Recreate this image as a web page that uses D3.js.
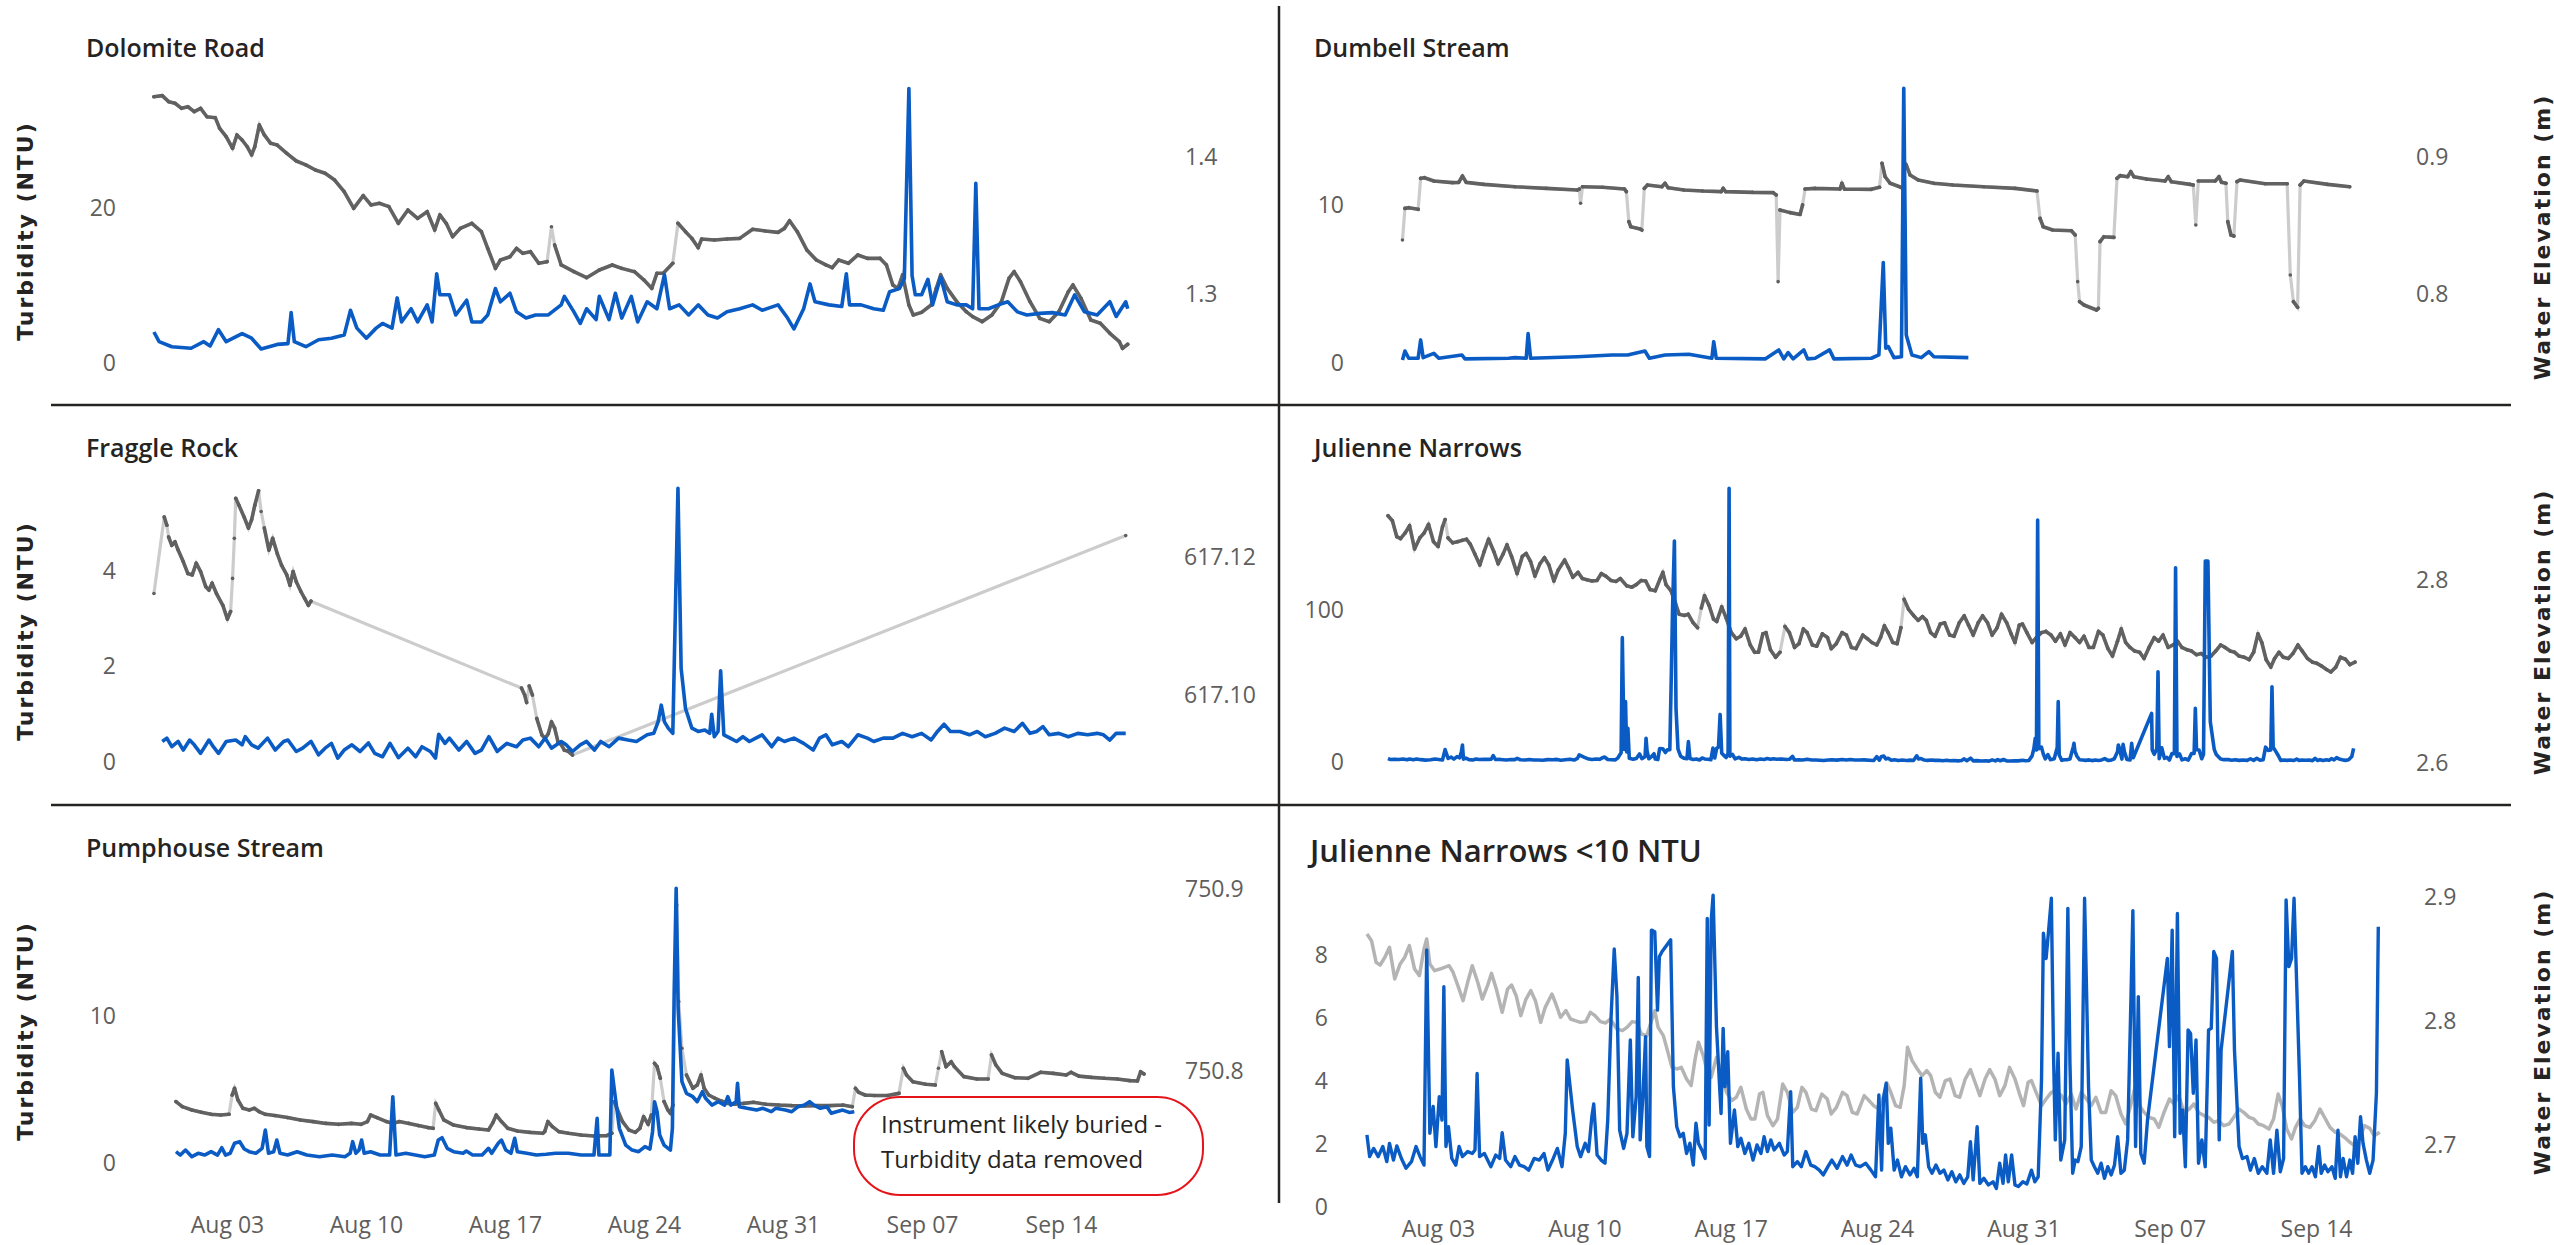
<!DOCTYPE html>
<html>
<head>
<meta charset="utf-8">
<script src="https://cdn.jsdelivr.net/npm/d3@7"></script>
<style>
    body { margin: 0; background: #fff; }
    svg { display: block; }
    .title { font-family: "Open Sans", sans-serif; font-weight: 600; fill: #252423; }
    .tick-axis text { font-family: "Open Sans", sans-serif; font-size: 23px; fill: #605E5C; }
    .axis-title { font-family: "DejaVu Sans", sans-serif; font-size: 22px; font-weight: bold; letter-spacing: 2px; fill: #252423; }
    .note { font-family: "Open Sans", sans-serif; font-size: 24px; fill: #252423; }
</style>
</head>
<body>
<svg id="chart" width="2554" height="1245"></svg>
<script>
// time is given as days after 1 Aug (0 = Aug 01 00:00)
var xTickDays = ["2023-08-03", "2023-08-10", "2023-08-17", "2023-08-24", "2023-08-31", "2023-09-07", "2023-09-14"];

// Dolomite Road
var dolomiteTurbidity = [[-1.68,4.0],[-1.42,2.75],[-0.78,2.1],[0.19,1.9],[0.83,2.75],[1.15,2.2],[1.57,4.3],[1.96,2.75],[2.76,3.8],[3.24,3.2],[3.72,1.8],[4.53,2.4],[5.07,2.5],[5.23,6.5],[5.39,2.75],[5.97,2.1],[6.61,3.0],[7.26,3.2],[7.90,3.6],[8.22,6.8],[8.54,4.5],[9.02,3.2],[9.51,4.5],[9.83,5.1],[10.31,4.5],[10.57,8.4],[10.79,5.3],[11.27,7.0],[11.60,5.3],[12.08,7.5],[12.33,5.3],[12.56,11.5],[12.72,8.8],[13.20,8.8],[13.52,6.2],[14.07,8.1],[14.33,5.3],[14.81,5.3],[15.13,6.2],[15.52,9.6],[15.77,7.9],[16.25,9.0],[16.58,6.6],[17.06,5.8],[17.54,6.2],[18.18,6.2],[18.83,7.5],[18.99,8.6],[19.47,6.6],[19.79,5.1],[20.11,7.0],[20.59,5.6],[20.75,8.6],[21.24,5.6],[21.56,9.0],[21.88,5.8],[22.36,8.6],[22.68,5.3],[23.16,7.9],[23.65,7.0],[24.03,11.4],[24.29,7.0],[24.77,7.5],[25.25,6.2],[25.73,7.5],[26.22,6.2],[26.70,5.8],[27.18,6.6],[27.82,7.0],[28.47,7.5],[28.95,6.8],[29.75,7.5],[30.23,5.8],[30.55,4.4],[31.04,7.0],[31.36,10.2],[31.61,7.9],[32.32,7.5],[32.96,7.3],[33.19,11.5],[33.35,7.5],[33.93,7.5],[34.57,7.0],[35.05,6.8],[35.37,9.2],[35.86,9.6],[36.11,10.9],[36.34,35.4],[36.50,11.3],[36.66,8.8],[36.98,8.8],[37.30,10.8],[37.53,7.5],[37.94,11.1],[38.27,7.9],[38.75,7.5],[39.23,7.5],[39.55,7.0],[39.71,23.2],[39.87,7.0],[40.35,7.0],[40.84,7.5],[41.32,7.9],[41.80,6.6],[42.28,6.2],[42.93,6.4],[43.57,6.5],[44.21,6.2],[44.69,8.8],[45.18,6.6],[45.82,6.2],[46.46,7.9],[46.78,6.0],[47.26,7.9],[47.36,7.0]];
var dolomiteElevation = [[-1.68,1.4440],[-1.26,1.4448],[-0.94,1.4404],[-0.62,1.4392],[-0.29,1.4355],[0.03,1.4367],[0.35,1.4331],[0.67,1.4355],[0.99,1.4294],[1.41,1.4287],[1.63,1.4209],[1.96,1.4148],[2.28,1.4063],[2.50,1.4161],[2.76,1.4124],[3.02,1.4075],[3.24,1.4015],[3.40,1.4075],[3.63,1.4234],[3.88,1.4161],[4.20,1.4100],[4.53,1.4087],[5.01,1.4027],[5.49,1.3971],[5.97,1.3942],[6.45,1.3905],[6.94,1.3881],[7.42,1.3832],[7.90,1.3747],[8.38,1.3625],[8.86,1.3718],[9.25,1.3650],[9.67,1.3662],[10.15,1.3638],[10.63,1.3516],[11.11,1.3613],[11.60,1.3552],[12.08,1.3601],[12.46,1.3467],[12.72,1.3577],[13.04,1.3516],[13.36,1.3418],[13.75,1.3479],[14.33,1.3516],[14.81,1.3455],[15.13,1.3333],[15.52,1.3187],[15.77,1.3248],[16.25,1.3272],[16.58,1.3333],[16.90,1.3297],[17.28,1.3309],[17.70,1.3224],[18.12,1.3236],[18.34,1.3491],[18.50,1.3358],[18.83,1.3212],[19.47,1.3163],[20.11,1.3119],[20.75,1.3175],[21.40,1.3212],[21.88,1.3187],[22.52,1.3163],[23.00,1.3102],[23.39,1.3041],[23.65,1.3151],[23.97,1.3151],[24.45,1.3224],[24.71,1.3516],[25.09,1.3455],[25.41,1.3406],[25.73,1.3338],[25.90,1.3401],[26.54,1.3394],[27.18,1.3401],[27.82,1.3406],[28.47,1.3472],[29.11,1.3460],[29.75,1.3450],[30.07,1.3479],[30.33,1.3535],[30.72,1.3455],[31.20,1.3321],[31.68,1.3248],[32.16,1.3212],[32.48,1.3192],[32.80,1.3248],[33.29,1.3224],[33.77,1.3285],[34.25,1.3260],[34.89,1.3260],[35.21,1.3212],[35.53,1.3066],[35.79,1.3041],[36.02,1.3139],[36.34,1.2920],[36.56,1.2847],[36.98,1.2866],[37.46,1.2920],[37.72,1.3041],[37.94,1.3139],[38.27,1.3041],[38.75,1.2944],[39.23,1.2871],[39.55,1.2835],[40.03,1.2798],[40.52,1.2847],[41.00,1.2944],[41.38,1.3114],[41.64,1.3163],[41.96,1.3090],[42.44,1.2944],[42.93,1.2822],[43.41,1.2798],[43.89,1.2871],[44.37,1.3017],[44.60,1.3066],[45.01,1.2968],[45.50,1.2810],[45.98,1.2786],[46.46,1.2713],[46.94,1.2652],[47.10,1.2603],[47.36,1.2633]];

// Dumbell Stream
var dumbellTurbidity = [[0.30,0.19],[0.42,0.76],[0.60,0.30],[1.05,0.30],[1.17,1.46],[1.29,0.34],[1.80,0.61],[2.04,0.30],[3.14,0.51],[3.29,0.26],[5.38,0.30],[5.68,0.34],[6.22,0.30],[6.31,1.86],[6.43,0.30],[8.67,0.40],[10.32,0.51],[11.07,0.51],[11.90,0.76],[12.11,0.30],[12.86,0.51],[14.00,0.55],[15.10,0.30],[15.19,1.35],[15.31,0.30],[17.65,0.26],[18.30,0.83],[18.54,0.26],[18.75,0.66],[18.99,0.26],[19.50,0.83],[19.68,0.26],[20.04,0.30],[20.73,0.83],[20.94,0.26],[22.73,0.30],[23.09,0.51],[23.30,6.35],[23.42,0.93],[23.54,1.04],[23.81,0.34],[24.17,0.40],[24.28,17.39],[24.40,1.77],[24.67,0.51],[25.12,0.34],[25.48,0.72],[25.72,0.40],[27.37,0.34]];
var dumbellElevation = [[0.30,0.8394],[0.42,0.8625],[0.60,0.8630],[1.05,0.8618],[1.17,0.8844],[1.35,0.8849],[1.80,0.8825],[2.69,0.8813],[2.99,0.8815],[3.17,0.8861],[3.35,0.8815],[4.19,0.8800],[5.68,0.8783],[7.18,0.8771],[8.67,0.8759],[8.76,0.8766],[8.82,0.8662],[8.91,0.8783],[9.87,0.8779],[10.92,0.8766],[11.01,0.8747],[11.13,0.8528],[11.22,0.8491],[11.67,0.8474],[11.75,0.8467],[11.87,0.8771],[12.02,0.8796],[12.71,0.8783],[12.86,0.8808],[13.01,0.8776],[13.76,0.8759],[14.66,0.8752],[15.55,0.8747],[15.64,0.8771],[15.76,0.8747],[17.05,0.8742],[18.03,0.8740],[18.18,0.8723],[18.27,0.8090],[18.36,0.8613],[18.84,0.8594],[19.32,0.8581],[19.44,0.8650],[19.56,0.8766],[20.04,0.8771],[21.23,0.8766],[21.32,0.8808],[21.44,0.8766],[22.73,0.8764],[23.12,0.8779],[23.24,0.8954],[23.39,0.8856],[23.63,0.8808],[24.08,0.8783],[24.23,0.8771],[24.28,0.8966],[24.40,0.8942],[24.58,0.8869],[24.97,0.8832],[25.72,0.8808],[26.62,0.8796],[28.11,0.8783],[29.61,0.8771],[30.65,0.8752],[30.80,0.8552],[30.95,0.8491],[31.40,0.8467],[32.30,0.8462],[32.48,0.8431],[32.60,0.8090],[32.69,0.7944],[32.90,0.7920],[33.50,0.7883],[33.59,0.7895],[33.67,0.8382],[33.85,0.8418],[34.33,0.8413],[34.48,0.8844],[34.63,0.8864],[34.99,0.8856],[35.14,0.8893],[35.29,0.8856],[35.89,0.8839],[36.78,0.8825],[36.93,0.8856],[37.08,0.8820],[37.98,0.8800],[38.13,0.8796],[38.25,0.8504],[38.37,0.8825],[39.18,0.8825],[39.36,0.8856],[39.48,0.8815],[39.69,0.8808],[39.78,0.8528],[39.93,0.8431],[40.07,0.8423],[40.22,0.8820],[40.37,0.8832],[41.57,0.8805],[42.62,0.8805],[42.77,0.8139],[42.92,0.7944],[43.12,0.7903],[43.24,0.8796],[43.42,0.8825],[44.56,0.8800],[45.61,0.8783]];

// Fraggle Rock (null marks a gap in the elevation record)
var fraggleTurbidity = [[-1.26,0.43],[-1.03,0.50],[-0.78,0.32],[-0.46,0.43],[-0.20,0.25],[0.12,0.46],[0.35,0.36],[0.67,0.18],[1.09,0.46],[1.31,0.32],[1.57,0.18],[1.96,0.43],[2.44,0.46],[2.76,0.36],[2.92,0.53],[3.24,0.36],[3.56,0.29],[4.04,0.50],[4.43,0.25],[4.85,0.43],[5.07,0.46],[5.49,0.22],[5.81,0.29],[6.23,0.43],[6.61,0.15],[6.94,0.29],[7.26,0.39],[7.58,0.08],[7.90,0.25],[8.29,0.36],[8.70,0.22],[9.12,0.40],[9.44,0.18],[9.83,0.11],[10.21,0.39],[10.63,0.09],[11.11,0.29],[11.50,0.11],[11.82,0.32],[12.24,0.22],[12.50,0.08],[12.66,0.58],[12.98,0.39],[13.20,0.50],[13.68,0.25],[14.07,0.43],[14.49,0.18],[14.81,0.25],[15.19,0.53],[15.61,0.22],[16.09,0.39],[16.58,0.32],[16.90,0.46],[17.28,0.50],[17.70,0.32],[18.02,0.50],[18.34,0.29],[18.83,0.43],[19.08,0.36],[19.40,0.22],[19.79,0.36],[20.11,0.43],[20.50,0.25],[20.82,0.43],[21.24,0.32],[21.72,0.50],[22.20,0.46],[22.62,0.43],[23.16,0.57],[23.49,0.60],[23.71,0.84],[23.87,1.19],[24.03,0.84],[24.22,0.71],[24.45,0.60],[24.71,5.73],[24.87,1.96],[25.09,1.12],[25.41,0.71],[25.73,0.64],[26.06,0.67],[26.31,0.60],[26.41,1.00],[26.54,0.53],[26.73,0.64],[26.86,1.91],[27.02,0.57],[27.34,0.50],[27.66,0.43],[27.98,0.53],[28.31,0.43],[28.63,0.50],[28.95,0.57],[29.43,0.32],[29.75,0.50],[30.07,0.43],[30.55,0.50],[31.04,0.39],[31.52,0.25],[31.84,0.50],[32.16,0.57],[32.48,0.36],[32.96,0.43],[33.29,0.32],[33.77,0.57],[34.25,0.50],[34.57,0.43],[35.05,0.50],[35.54,0.50],[36.02,0.60],[36.50,0.53],[36.98,0.60],[37.46,0.46],[37.78,0.64],[38.11,0.79],[38.43,0.64],[38.91,0.64],[39.39,0.57],[39.78,0.64],[40.19,0.53],[40.68,0.60],[41.16,0.71],[41.64,0.64],[42.06,0.81],[42.44,0.60],[42.77,0.64],[43.09,0.74],[43.41,0.57],[43.89,0.60],[44.37,0.53],[44.85,0.60],[45.34,0.57],[45.82,0.60],[46.14,0.57],[46.46,0.46],[46.78,0.60],[47.26,0.60]];
var fraggleElevation = [[-1.68,617.1147],[-1.16,617.1258],[-1.03,617.1246],[-0.94,617.1229],[-0.78,617.1217],[-0.62,617.1222],[-0.46,617.1210],[-0.20,617.1193],[0.03,617.1176],[0.25,617.1174],[0.45,617.1191],[0.67,617.1179],[0.93,617.1157],[1.09,617.1152],[1.25,617.1162],[1.47,617.1147],[1.79,617.1130],[2.02,617.1110],[2.18,617.1121],[2.28,617.1169],[2.37,617.1227],[2.44,617.1285],[2.60,617.1275],[2.86,617.1258],[3.08,617.1242],[3.24,617.1254],[3.40,617.1275],[3.59,617.1296],[3.72,617.1266],[3.88,617.1242],[4.11,617.1210],[4.30,617.1227],[4.53,617.1205],[4.75,617.1188],[5.01,617.1174],[5.17,617.1159],[5.33,617.1179],[5.49,617.1164],[5.72,617.1150],[5.91,617.1140],[6.10,617.1130],[6.23,617.1136],null,[16.83,617.1010],[16.99,617.1000],[17.09,617.0989],[17.22,617.1013],[17.38,617.1000],[17.60,617.0966],[17.86,617.0942],[18.02,617.0937],[18.18,617.0944],[18.34,617.0961],[18.50,617.0952],[18.67,617.0932],[18.83,617.0928],[18.99,617.0920],[19.15,617.0919],[19.40,617.0913],null,[47.26,617.1231]];

// Julienne Narrows (same record feeds the <10 NTU panel)
var julienneTurbidity = [[-1.40,2.29],[-1.27,1.60],[-1.08,1.86],[-0.86,1.60],[-0.64,1.92],[-0.45,1.44],[-0.32,2.02],[-0.13,1.49],[0.03,1.94],[0.25,1.54],[0.47,1.23],[0.73,1.44],[0.95,1.92],[1.14,1.60],[1.33,1.33],[1.46,8.16],[1.61,2.34],[1.77,3.19],[1.90,1.92],[2.06,3.50],[2.19,2.76],[2.28,6.99],[2.33,11.2],[2.38,1.92],[2.50,2.55],[2.66,1.54],[2.85,1.33],[3.01,1.92],[3.17,1.60],[3.42,1.76],[3.64,1.70],[3.77,1.81],[3.87,4.24],[3.99,1.60],[4.22,1.70],[4.53,1.28],[4.76,1.65],[4.95,1.54],[5.07,2.36],[5.23,1.49],[5.48,1.28],[5.68,1.60],[5.90,1.33],[6.12,1.28],[6.34,1.17],[6.60,1.54],[6.85,1.49],[7.07,1.70],[7.26,1.17],[7.48,1.49],[7.71,1.86],[7.93,1.28],[8.09,2.34],[8.18,4.67],[8.44,3.08],[8.66,1.92],[8.82,1.60],[9.04,2.02],[9.20,1.76],[9.36,2.87],[9.45,3.27],[9.61,1.65],[9.80,1.49],[9.99,1.39],[10.12,2.76],[10.28,6.04],[10.34,81.8],[10.43,8.19],[10.50,39.7],[10.56,6.68],[10.62,22.1],[10.69,2.44],[10.88,1.86],[11.04,2.34],[11.20,5.30],[11.32,2.23],[11.48,3.50],[11.53,15.6],[11.58,7.29],[11.67,2.13],[11.80,3.50],[11.93,5.41],[11.99,1.92],[12.12,1.60],[12.21,8.79],[12.37,8.74],[12.50,6.25],[12.59,7.95],[12.72,8.11],[12.78,47.4],[12.86,102.0],[12.95,145.4],[13.03,35.3],[13.13,8.48],[13.26,3.82],[13.42,2.55],[13.58,2.23],[13.65,13.4],[13.73,2.34],[13.89,1.70],[14.05,2.02],[14.21,1.33],[14.34,2.66],[14.46,2.02],[14.62,1.81],[14.78,1.54],[14.88,9.16],[14.97,2.60],[15.07,9.11],[15.16,9.90],[15.24,31.3],[15.32,5.73],[15.48,3.71],[15.54,2.97],[15.64,5.67],[15.69,180.0],[15.73,3.82],[15.86,4.93],[15.99,2.02],[16.18,3.08],[16.34,1.92],[16.49,2.18],[16.68,1.70],[16.87,2.02],[17.07,1.49],[17.26,1.97],[17.45,1.70],[17.60,2.23],[17.76,1.76],[17.92,2.13],[18.08,1.81],[18.33,2.02],[18.56,1.65],[18.71,1.76],[18.87,3.66],[18.97,1.28],[19.19,1.44],[19.38,1.28],[19.60,1.76],[19.83,1.33],[20.02,1.28],[20.24,1.17],[20.43,1.02],[20.65,1.28],[20.84,1.49],[21.09,1.23],[21.35,1.60],[21.57,1.33],[21.76,1.65],[21.98,1.33],[22.20,1.28],[22.46,1.39],[22.71,1.17],[22.93,0.96],[23.09,3.56],[23.22,1.17],[23.31,3.45],[23.44,3.93],[23.54,2.02],[23.66,2.50],[23.82,1.17],[23.98,1.49],[24.17,0.96],[24.36,1.28],[24.58,1.02],[24.77,1.23],[24.93,0.96],[25.09,4.09],[25.19,2.02],[25.31,2.29],[25.47,1.28],[25.63,1.07],[25.82,1.33],[26.01,1.07],[26.20,1.17],[26.39,0.86],[26.58,1.12],[26.77,0.80],[26.96,1.02],[27.15,0.75],[27.34,0.96],[27.47,2.07],[27.60,0.86],[27.79,2.55],[27.92,0.75],[28.11,0.91],[28.33,0.70],[28.55,0.80],[28.71,0.59],[28.87,1.39],[29.03,0.75],[29.15,1.65],[29.28,0.80],[29.44,1.65],[29.60,0.70],[29.76,0.65],[29.98,0.80],[30.17,0.73],[30.39,1.17],[30.55,0.80],[30.71,0.96],[30.87,4.03],[30.96,8.69],[31.03,15.6],[31.09,7.89],[31.15,159.2],[31.21,8.79],[31.34,9.80],[31.44,4.98],[31.53,2.13],[31.66,4.88],[31.79,1.49],[31.98,2.13],[32.13,9.48],[32.18,39.7],[32.23,4.56],[32.36,1.07],[32.48,1.49],[32.61,1.44],[32.77,1.92],[32.93,9.80],[32.97,12.3],[33.02,6.99],[33.12,3.82],[33.25,1.49],[33.40,1.28],[33.56,1.07],[33.72,1.39],[33.88,0.91],[34.04,1.28],[34.20,1.02],[34.36,1.33],[34.51,2.23],[34.67,1.07],[34.83,1.17],[34.99,2.13],[35.15,6.68],[35.19,11.2],[35.24,9.41],[35.37,1.92],[35.43,11.6],[35.50,6.68],[35.62,1.70],[35.78,1.39],[35.86,12.3],[35.94,2.76],[36.86,32.0],[36.89,7.89],[36.99,5.09],[37.12,8.79],[37.18,59.4],[37.24,2.23],[37.37,9.32],[37.50,2.34],[37.62,3.08],[37.75,1.28],[37.88,5.62],[38.00,5.51],[38.06,127.8],[38.13,3.61],[38.26,5.30],[38.38,1.39],[38.54,2.13],[38.70,1.28],[38.86,5.62],[38.99,5.67],[39.05,35.3],[39.11,8.11],[39.24,7.89],[39.37,2.13],[39.46,4.98],[39.55,132.2],[39.68,132.2],[39.80,26.5],[40.00,8.11],[40.10,4.98],[40.22,3.29],[40.32,1.92],[40.48,1.54],[40.70,1.60],[40.86,1.17],[41.05,1.54],[41.24,1.07],[41.43,1.28],[41.65,1.07],[41.81,2.13],[41.97,1.07],[42.13,2.44],[42.29,1.12],[42.45,1.54],[42.57,9.75],[42.70,7.63],[42.83,7.89],[42.89,49.5],[42.95,9.80],[43.08,6.99],[43.21,4.14],[43.33,1.07],[43.49,1.28],[43.65,1.07],[43.81,1.28],[43.97,0.96],[44.13,1.92],[44.25,1.07],[44.41,1.33],[44.57,1.12],[44.76,1.28],[44.92,0.91],[45.05,2.44],[45.17,0.96],[45.30,1.54],[45.46,0.96],[45.62,1.49],[45.75,1.07],[45.87,2.23],[46.00,1.39],[46.13,2.87],[46.25,2.02],[46.41,1.49],[46.57,1.07],[46.73,1.49],[46.89,3.61],[46.98,8.90]];
var julienneElevation = [[-1.40,2.8702],[-1.18,2.8648],[-0.96,2.8473],[-0.77,2.8452],[-0.54,2.8514],[-0.32,2.8594],[-0.07,2.8339],[0.19,2.8460],[0.41,2.8514],[0.63,2.8608],[0.88,2.8419],[1.11,2.8366],[1.33,2.8581],[1.46,2.8661],[1.61,2.8460],[1.84,2.8406],[2.09,2.8419],[2.31,2.8433],[2.53,2.8446],[2.72,2.8393],[2.95,2.8285],[3.20,2.8164],[3.42,2.8312],[3.64,2.8446],[3.90,2.8312],[4.12,2.8177],[4.37,2.8285],[4.56,2.8384],[4.79,2.8258],[5.07,2.8070],[5.33,2.8258],[5.52,2.8290],[5.74,2.8204],[5.96,2.8043],[6.21,2.8177],[6.44,2.8245],[6.66,2.8164],[6.91,2.7989],[7.13,2.8110],[7.45,2.8218],[7.64,2.8137],[7.86,2.8030],[8.12,2.8083],[8.34,2.8016],[8.56,2.8003],[8.82,2.7989],[9.07,2.7995],[9.29,2.8070],[9.51,2.8043],[9.77,2.7995],[10.02,2.7984],[10.24,2.8016],[10.56,2.7936],[10.82,2.7922],[11.04,2.7949],[11.29,2.7995],[11.51,2.7989],[11.73,2.7895],[11.99,2.7882],[12.24,2.8016],[12.37,2.8083],[12.53,2.7949],[12.78,2.7882],[13.00,2.7747],[13.19,2.7626],[13.45,2.7613],[13.64,2.7626],[13.89,2.7532],[14.11,2.7479],[14.30,2.7694],[14.46,2.7828],[14.69,2.7720],[14.91,2.7573],[15.07,2.7546],[15.32,2.7707],[15.54,2.7586],[15.80,2.7425],[16.05,2.7358],[16.27,2.7385],[16.49,2.7465],[16.75,2.7290],[16.97,2.7210],[17.16,2.7210],[17.38,2.7411],[17.54,2.7425],[17.76,2.7237],[18.02,2.7156],[18.24,2.7210],[18.49,2.7492],[18.71,2.7425],[18.97,2.7263],[19.19,2.7304],[19.41,2.7465],[19.60,2.7425],[19.86,2.7290],[20.08,2.7277],[20.36,2.7411],[20.62,2.7371],[20.81,2.7250],[21.06,2.7304],[21.35,2.7425],[21.57,2.7398],[21.82,2.7263],[22.05,2.7250],[22.39,2.7398],[22.62,2.7358],[22.84,2.7317],[23.09,2.7290],[23.28,2.7371],[23.47,2.7500],[23.66,2.7425],[23.89,2.7317],[24.11,2.7304],[24.30,2.7479],[24.46,2.7788],[24.68,2.7680],[24.93,2.7613],[25.16,2.7559],[25.38,2.7600],[25.57,2.7559],[25.79,2.7425],[26.01,2.7385],[26.27,2.7519],[26.49,2.7532],[26.74,2.7398],[26.96,2.7385],[27.22,2.7532],[27.47,2.7608],[27.69,2.7506],[27.92,2.7398],[28.17,2.7532],[28.39,2.7608],[28.64,2.7532],[28.87,2.7398],[29.12,2.7479],[29.34,2.7626],[29.60,2.7532],[29.82,2.7411],[30.01,2.7317],[30.23,2.7506],[30.39,2.7519],[30.61,2.7425],[30.87,2.7317],[31.09,2.7371],[31.34,2.7425],[31.56,2.7438],[31.82,2.7398],[32.04,2.7331],[32.29,2.7411],[32.52,2.7290],[32.77,2.7425],[33.02,2.7371],[33.25,2.7317],[33.47,2.7385],[33.72,2.7263],[33.94,2.7263],[34.20,2.7438],[34.42,2.7398],[34.67,2.7250],[34.90,2.7169],[35.15,2.7331],[35.34,2.7465],[35.56,2.7317],[35.78,2.7263],[36.01,2.7223],[36.26,2.7210],[36.48,2.7142],[36.73,2.7263],[36.99,2.7371],[37.21,2.7331],[37.43,2.7398],[37.69,2.7263],[37.94,2.7290],[38.16,2.7331],[38.38,2.7263],[38.64,2.7237],[38.86,2.7223],[39.11,2.7183],[39.34,2.7196],[39.59,2.7156],[39.84,2.7169],[40.07,2.7223],[40.32,2.7290],[40.54,2.7263],[40.80,2.7223],[41.02,2.7210],[41.24,2.7169],[41.49,2.7156],[41.75,2.7129],[41.97,2.7210],[42.19,2.7411],[42.38,2.7317],[42.60,2.7129],[42.83,2.7048],[43.02,2.7142],[43.24,2.7210],[43.46,2.7156],[43.71,2.7142],[43.94,2.7196],[44.19,2.7290],[44.41,2.7223],[44.67,2.7142],[44.92,2.7102],[45.14,2.7089],[45.36,2.7062],[45.62,2.7022],[45.84,2.6995],[46.09,2.7048],[46.32,2.7156],[46.57,2.7134],[46.79,2.7075],[47.05,2.7102]];

// Pumphouse Stream
var pumphouseTurbidity = [[-0.57,0.77],[-0.35,0.54],[-0.09,0.88],[0.23,0.43],[0.55,0.66],[0.87,0.54],[1.20,0.77],[1.52,0.54],[1.74,1.04],[1.93,0.54],[2.16,0.66],[2.38,1.34],[2.64,1.45],[2.87,0.95],[3.12,0.77],[3.45,0.66],[3.77,1.00],[3.93,2.24],[4.09,0.66],[4.35,0.77],[4.51,1.56],[4.67,0.66],[5.05,0.54],[5.53,0.77],[6.02,0.54],[6.66,0.43],[7.30,0.54],[7.94,0.43],[8.20,0.66],[8.33,1.45],[8.49,0.66],[8.65,0.88],[8.78,1.56],[8.91,0.66],[9.23,0.77],[9.71,0.54],[10.19,0.54],[10.35,4.51],[10.51,0.54],[11.00,0.66],[11.48,0.54],[11.96,0.43],[12.44,0.54],[12.64,1.56],[12.83,1.72],[13.09,1.00],[13.41,0.77],[13.89,0.66],[14.05,0.81],[14.37,0.54],[14.85,0.54],[15.17,1.00],[15.33,0.66],[15.66,1.34],[15.82,1.56],[16.04,0.88],[16.30,0.66],[16.49,1.68],[16.62,0.77],[17.10,0.66],[17.58,0.54],[18.07,0.59],[18.55,0.66],[19.19,0.66],[19.83,0.54],[20.48,0.54],[20.64,3.04],[20.73,0.54],[21.28,0.54],[21.38,6.33],[21.54,4.62],[21.76,2.36],[22.08,1.22],[22.40,0.88],[22.73,0.77],[23.05,1.11],[23.30,0.95],[23.43,2.13],[23.53,4.17],[23.66,3.49],[23.79,1.90],[24.01,1.22],[24.33,0.88],[24.43,2.36],[24.52,11.65],[24.62,18.68],[24.72,10.52],[24.91,5.53],[25.14,4.74],[25.46,4.51],[25.68,4.17],[25.94,4.85],[26.10,4.40],[26.42,3.94],[26.74,4.17],[27.06,3.94],[27.22,4.51],[27.38,3.94],[27.64,4.17],[27.71,5.42],[27.80,3.83],[28.19,3.72],[28.67,3.60],[28.99,3.72],[29.41,3.49],[29.63,3.72],[30.12,3.60],[30.44,3.49],[30.76,3.83],[31.08,3.94],[31.34,4.17],[31.56,3.94],[31.88,3.72],[32.21,3.83],[32.43,3.38],[32.69,3.49],[33.01,3.60],[33.33,3.44],[33.59,3.49]];
var pumphouseElevation = [[-0.57,750.7832],[-0.25,750.7804],[0.23,750.7786],[0.71,750.7773],[1.20,750.7762],[1.68,750.7758],[2.10,750.7762],[2.26,750.7868],[2.38,750.7905],[2.55,750.7841],[2.80,750.7795],[3.12,750.7786],[3.38,750.7795],[3.61,750.7777],[3.93,750.7762],[4.41,750.7755],[5.05,750.7744],[5.69,750.7731],[6.34,750.7722],[6.98,750.7712],[7.62,750.7707],[8.27,750.7712],[8.75,750.7707],[9.07,750.7722],[9.23,750.7758],[9.55,750.7744],[10.03,750.7722],[10.35,750.7712],[10.68,750.7722],[11.16,750.7712],[11.64,750.7700],[12.12,750.7689],[12.38,750.7685],[12.51,750.7822],[12.67,750.7786],[12.92,750.7731],[13.41,750.7703],[14.05,750.7689],[14.69,750.7681],[15.17,750.7676],[15.40,750.7718],[15.56,750.7758],[15.82,750.7722],[16.14,750.7685],[16.62,750.7670],[17.26,750.7663],[17.91,750.7658],[18.00,750.7667],[18.16,750.7722],[18.39,750.7694],[18.71,750.7667],[19.19,750.7658],[19.83,750.7648],[20.48,750.7643],[21.12,750.7645],[21.38,750.7658],[21.50,750.7832],[21.63,750.7795],[21.92,750.7722],[22.24,750.7676],[22.56,750.7663],[22.79,750.7685],[22.98,750.7749],[23.21,750.7707],[23.37,750.7758],[23.53,750.8042],[23.66,750.8024],[23.82,750.7960],[24.01,750.7832],[24.20,750.7786],[24.33,750.7767],[24.46,750.7813],[24.56,750.8436],[24.65,750.8912],[24.75,750.8381],[24.91,750.8125],[25.14,750.7978],[25.46,750.7905],[25.68,750.7923],[25.87,750.7978],[26.03,750.7905],[26.26,750.7868],[26.58,750.7850],[26.90,750.7835],[27.22,750.7822],[27.55,750.7817],[28.03,750.7822],[28.51,750.7828],[29.15,750.7817],[29.79,750.7813],[30.44,750.7810],[31.08,750.7808],[31.72,750.7810],[32.37,750.7810],[33.01,750.7813],[33.49,750.7804],[33.65,750.7905],[33.81,750.7883],[34.13,750.7868],[34.61,750.7865],[35.26,750.7865],[35.84,750.7877],[36.06,750.8015],[36.22,750.7978],[36.54,750.7941],[37.19,750.7927],[37.67,750.7923],[37.83,750.8015],[37.99,750.8106],[38.21,750.8024],[38.47,750.8051],[38.63,750.8024],[39.11,750.7969],[39.76,750.7956],[40.33,750.7956],[40.50,750.8088],[40.72,750.8033],[41.04,750.7987],[41.68,750.7963],[42.33,750.7960],[42.97,750.7993],[43.61,750.7987],[44.26,750.7978],[44.51,750.7993],[44.90,750.7972],[45.54,750.7965],[46.18,750.7960],[46.83,750.7956],[47.47,750.7947],[47.85,750.7945],[48.01,750.7996],[48.18,750.7984]];

var day0 = new Date(2023, 7, 1);
var toDate = function(t) { return new Date(day0.getTime() + t * 864e5); };
var parseDay = d3.timeParse("%Y-%m-%d");
var tickDates = xTickDays.map(parseDay);

var blue = "#0a5cc4";
var svg = d3.select("#chart");

// x scales: one per column, pinned on the bottom axis ticks
var leftX = d3.scaleTime().domain([tickDates[0], tickDates[6]]).range([227, 1061]);
var rightX = d3.scaleTime().domain([tickDates[0], tickDates[6]]).range([1438, 2316]);
// the top Julienne panel is a little narrower than the one below it
var julienneX = d3.scaleTime()
    .domain(d3.extent(julienneElevation, function(d) { return toDate(d[0]); }))
    .range([1388, 2355]);

var panels = [
    {title: "Dolomite Road", x: leftX, turb: dolomiteTurbidity, elev: dolomiteElevation,
     titleX: 86, titleY: 57, titleSize: 25,
     turbTicks: [0, 20], turbPx: [363, 208], elevTicks: [1.3, 1.4], elevPx: [294, 157], elevFmt: ".1f",
     leftTickX: 116, rightTickX: 1185, axisTitle: "Turbidity (NTU)", axisTitleX: 25, axisTitleY: 231, style: "dots"},
    {title: "Dumbell Stream", x: rightX, turb: dumbellTurbidity, elev: dumbellElevation,
     titleX: 1314, titleY: 57, titleSize: 25,
     turbTicks: [0, 10], turbPx: [363, 205], elevTicks: [0.8, 0.9], elevPx: [294, 157], elevFmt: ".1f",
     leftTickX: 1344, rightTickX: 2416, axisTitle: "Water Elevation (m)", axisTitleX: 2542, axisTitleY: 237, style: "dots"},
    {title: "Fraggle Rock", x: leftX, turb: fraggleTurbidity, elev: fraggleElevation,
     titleX: 86, titleY: 457, titleSize: 25,
     turbTicks: [0, 2, 4], turbPx: [762, 571], elevTicks: [617.10, 617.12], elevPx: [695, 557], elevFmt: ".2f",
     leftTickX: 116, rightTickX: 1184, axisTitle: "Turbidity (NTU)", axisTitleX: 25, axisTitleY: 631, style: "dots"},
    {title: "Julienne Narrows", x: julienneX, turb: julienneTurbidity, elev: julienneElevation,
     titleX: 1314, titleY: 457, titleSize: 25,
     turbTicks: [0, 100], turbPx: [762, 610], elevTicks: [2.6, 2.8], elevPx: [763, 580], elevFmt: ".1f",
     leftTickX: 1344, rightTickX: 2416, axisTitle: "Water Elevation (m)", axisTitleX: 2542, axisTitleY: 632, style: "dots"},
    {title: "Pumphouse Stream", x: leftX, turb: pumphouseTurbidity, elev: pumphouseElevation,
     titleX: 86, titleY: 857, titleSize: 25,
     turbTicks: [0, 10], turbPx: [1163, 1016], elevTicks: [750.8, 750.9], elevPx: [1071, 889], elevFmt: ".1f",
     leftTickX: 116, rightTickX: 1185, axisTitle: "Turbidity (NTU)", axisTitleX: 25, axisTitleY: 1031, style: "dots",
     xAxisY: 1233},
    {title: "Julienne Narrows <10 NTU", x: rightX, turb: julienneTurbidity, elev: julienneElevation, maxTurb: 10,
     titleX: 1310, titleY: 862, titleSize: 31,
     turbTicks: [0, 2, 4, 6, 8], turbPx: [1207, 955], elevTicks: [2.7, 2.8, 2.9], elevPx: [1145, 897], elevFmt: ".1f",
     leftTickX: 1328, rightTickX: 2424, axisTitle: "Water Elevation (m)", axisTitleX: 2542, axisTitleY: 1032, style: "plain",
     xAxisY: 1237}
];

// panel dividers
var rules = svg.append("g").attr("stroke", "#252423").attr("stroke-width", 2.5);
rules.append("line").attr("x1", 1279).attr("x2", 1279).attr("y1", 6).attr("y2", 1203);
[405, 805].forEach(function(y) {
    rules.append("line").attr("x1", 51).attr("x2", 2511).attr("y1", y).attr("y2", y);
});

// draws the water elevation: light line through every reading, dark over the slow parts
var drawElevation = function(g, p, x, y) {
    var pts = p.elev.map(function(d) {
        return d ? {t: d[0], px: x(toDate(d[0])), py: y(d[1])} : null;
    });
    var kept = pts.filter(function(d) { return d; });
    var line = d3.line().x(function(d) { return d.px; }).y(function(d) { return d.py; });

    if (p.style == "plain") {
        g.append("path").attr("d", line(kept))
            .attr("fill", "none").attr("stroke", "#b4b4b4").attr("stroke-width", 3.5)
            .attr("stroke-linejoin", "round");
        return;
    }
    g.append("path").attr("d", line(kept))
        .attr("fill", "none").attr("stroke", "#cccccc").attr("stroke-width", 3.2);

    // steep jumps and gaps have only a few readings, so they stay light
    var dark = d3.path();
    for (var i = 1; i < pts.length; i++) {
        var a = pts[i - 1], b = pts[i];
        if (!a || !b) continue;
        var rate = Math.abs(b.py - a.py) / (b.t - a.t);
        if (rate < 100) {
            dark.moveTo(a.px, a.py);
            dark.lineTo(b.px, b.py);
        }
    }
    g.append("path").attr("d", dark.toString())
        .attr("fill", "none").attr("stroke", "#626262").attr("stroke-width", 3.6)
        .attr("stroke-linecap", "round");
    g.selectAll("circle.reading").data(kept).enter()
        .append("circle")
        .attr("class", "reading")
        .attr("cx", function(d) { return d.px; })
        .attr("cy", function(d) { return d.py; })
        .attr("r", 1.8)
        .attr("fill", "#5e5e5e");
};

panels.forEach(function(p) {
    var g = svg.append("g");
    var x = p.x;
    var yT = d3.scaleLinear().domain(d3.extent(p.turbTicks)).range(p.turbPx);
    var yE = d3.scaleLinear().domain(d3.extent(p.elevTicks)).range(p.elevPx);

    g.append("text").attr("class", "title")
        .attr("x", p.titleX).attr("y", p.titleY)
        .style("font-size", p.titleSize + "px")
        .text(p.title);

    // tick labels only, no axis lines
    g.append("g").attr("class", "tick-axis")
        .attr("transform", "translate(" + p.leftTickX + ",0)")
        .call(d3.axisLeft(yT).tickValues(p.turbTicks).tickSize(0).tickPadding(0).tickFormat(d3.format("d")))
        .call(function(a) { a.select(".domain").remove(); });
    g.append("g").attr("class", "tick-axis")
        .attr("transform", "translate(" + p.rightTickX + ",0)")
        .call(d3.axisRight(yE).tickValues(p.elevTicks).tickSize(0).tickPadding(0).tickFormat(d3.format(p.elevFmt)))
        .call(function(a) { a.select(".domain").remove(); });

    g.append("text").attr("class", "axis-title")
        .attr("transform", "translate(" + p.axisTitleX + "," + p.axisTitleY + ") rotate(-90)")
        .attr("text-anchor", "middle")
        .attr("dominant-baseline", "central")
        .text(p.axisTitle);

    if (p.xAxisY) {
        g.append("g").attr("class", "tick-axis")
            .attr("transform", "translate(0," + p.xAxisY + ")")
            .call(d3.axisBottom(x).tickValues(tickDates).tickSize(0).tickPadding(0).tickFormat(d3.timeFormat("%b %d")))
            .call(function(a) {
                a.select(".domain").remove();
                a.selectAll("text").attr("dy", 0).attr("y", 0);
            });
    }

    drawElevation(g, p, x, yE);

    var turb = p.turb;
    if (p.maxTurb) {
        turb = turb.filter(function(d) { return d[1] < p.maxTurb; });
    }
    g.append("path")
        .attr("d", d3.line()
            .x(function(d) { return x(toDate(d[0])); })
            .y(function(d) { return yT(d[1]); })(turb))
        .attr("fill", "none")
        .attr("stroke", blue)
        .attr("stroke-width", p.maxTurb ? 3.4 : 3.6)
        .attr("stroke-linejoin", "round");
});

// note on the Pumphouse panel
var note = svg.append("g");
note.append("rect")
    .attr("x", 854).attr("y", 1097).attr("width", 349).attr("height", 98)
    .attr("rx", 46).attr("ry", 46)
    .attr("fill", "#fff").attr("stroke", "#e5141b").attr("stroke-width", 2);
note.append("text").attr("class", "note").attr("x", 881).attr("y", 1133).text("Instrument likely buried -");
note.append("text").attr("class", "note").attr("x", 881).attr("y", 1168).text("Turbidity data removed");
</script>
</body>
</html>
